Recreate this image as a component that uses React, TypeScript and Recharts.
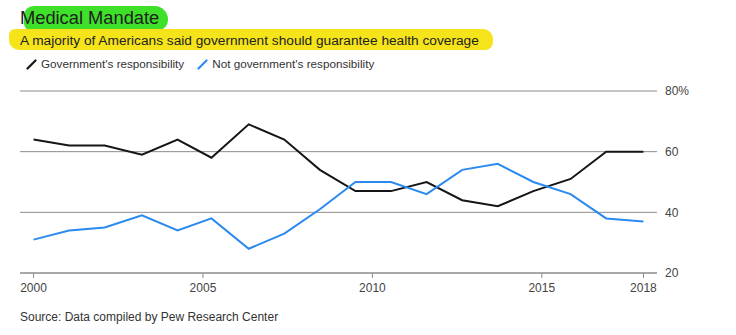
import React from "react";
import { LineChart, Line, XAxis, YAxis, CartesianGrid } from "recharts";

// survey dates (not exactly one per year)
const years = [
  2000.0, 2001.05, 2002.1, 2003.2, 2004.25, 2005.25, 2006.35, 2007.4, 2008.45,
  2009.5, 2010.55, 2011.6, 2012.65, 2013.7, 2014.75, 2015.85, 2016.9, 2018.0,
];
const govResponsibility = [64, 62, 62, 59, 64, 58, 69, 64, 54, 47, 47, 50, 44, 42, 47, 51, 60, 60];
const notGovResponsibility = [31, 34, 35, 39, 34, 38, 28, 33, 41, 50, 50, 46, 54, 56, 50, 46, 38, 37];
const xTicks = [2000, 2005, 2010, 2015, 2018];
const yTicks = [20, 40, 60, 80];

const FONT = '"Liberation Sans", Arial, Helvetica, sans-serif';
const BLACK = "#151515";
const BLUE = "#2a8af0";

const data = years.map((year, i) => ({
  year,
  gov: govResponsibility[i],
  notGov: notGovResponsibility[i],
}));

const legendItems = [
  { label: "Government's responsibility", color: BLACK },
  { label: "Not government's responsibility", color: BLUE },
];

function SlashIcon({ color }: { color: string }) {
  return (
    <svg width={11} height={11} style={{ marginRight: 4 }}>
      <line x1={1.5} y1={9.5} x2={9.5} y2={1.5} stroke={color} strokeWidth={2.2} strokeLinecap="round" />
    </svg>
  );
}

export default function App() {
  return (
    <div
      style={{
        position: "absolute",
        left: 0,
        top: 0,
        width: 736,
        height: 335,
        background: "#fff",
        fontFamily: FONT,
        overflow: "hidden",
      }}
    >
      {/* marker highlights */}
      <div style={{ position: "absolute", left: 24, top: 6, width: 144, height: 25, background: "#3fe02a", borderRadius: "10px 14px 12px 8px" }} />
      <div style={{ position: "absolute", left: 9, top: 29, width: 484, height: 21, background: "#f6e41a", borderRadius: "6px 10px 8px 10px" }} />

      <div style={{ position: "absolute", left: 20, top: 8, fontSize: 18.3, color: "#1e1e1e", lineHeight: "20px" }}>
        Medical Mandate
      </div>
      <div style={{ position: "absolute", left: 20, top: 32, fontSize: 13.7, color: "#222", lineHeight: "17px" }}>
        A majority of Americans said government should guarantee health coverage
      </div>

      <div
        style={{
          position: "absolute",
          left: 26,
          top: 57,
          display: "flex",
          alignItems: "center",
          fontSize: 11.7,
          color: "#333",
          lineHeight: "14px",
        }}
      >
        {legendItems.map((item) => (
          <div key={item.label} style={{ display: "flex", alignItems: "center", marginRight: 13 }}>
            <SlashIcon color={item.color} />
            <span>{item.label}</span>
          </div>
        ))}
      </div>

      <LineChart width={736} height={335} data={data} margin={{ top: 91, right: 19, bottom: 32, left: 20 }}>
        <CartesianGrid vertical={false} stroke="#8c8c8c" />
        <XAxis
          dataKey="year"
          type="number"
          domain={[1999.6, 2018.4]}
          ticks={xTicks}
          allowDataOverflow
          height={30}
          tickSize={5}
          tickMargin={5}
          axisLine={{ stroke: "#8c8c8c" }}
          tickLine={{ stroke: "#8c8c8c" }}
          tick={{ fill: "#444", fontSize: 12, fontFamily: FONT }}
        />
        <YAxis
          orientation="right"
          type="number"
          domain={[20, 80]}
          ticks={yTicks}
          width={60}
          axisLine={false}
          tickLine={false}
          tickSize={0}
          tickMargin={8}
          tick={{ fill: "#444", fontSize: 12, fontFamily: FONT, textAnchor: "start" }}
          tickFormatter={(v: number) => (v === 80 ? "80%" : String(v))}
        />
        <Line
          type="linear"
          dataKey="gov"
          name="Government's responsibility"
          stroke={BLACK}
          strokeWidth={2}
          dot={false}
          isAnimationActive={false}
        />
        <Line
          type="linear"
          dataKey="notGov"
          name="Not government's responsibility"
          stroke={BLUE}
          strokeWidth={2}
          dot={false}
          isAnimationActive={false}
        />
      </LineChart>

      <div style={{ position: "absolute", left: 20, top: 310, fontSize: 12, color: "#333" }}>
        Source: Data compiled by Pew Research Center
      </div>
    </div>
  );
}
